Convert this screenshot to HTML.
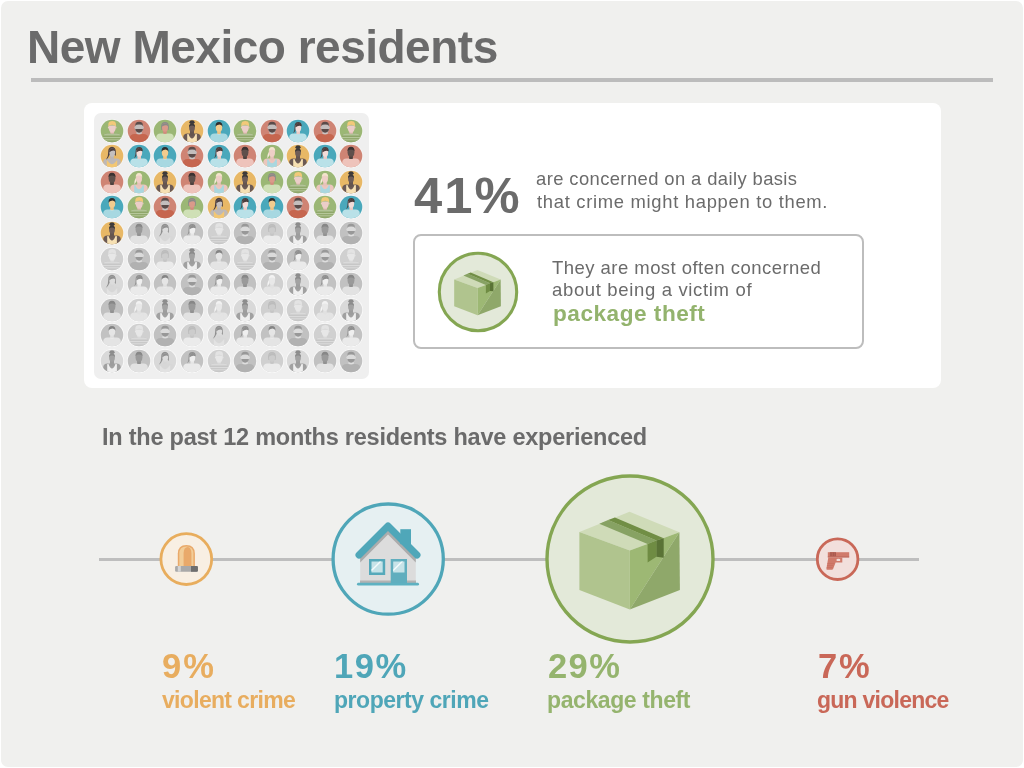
<!DOCTYPE html>
<html><head><meta charset="utf-8">
<style>
html,body{margin:0;padding:0;background:#fff;}
body{width:1024px;height:768px;position:relative;overflow:hidden;font-family:"Liberation Sans",sans-serif;}
.bg{position:absolute;left:1px;top:1px;width:1022px;height:766px;background:#f0f0ee;border-radius:7px;}
.t{position:absolute;white-space:nowrap;line-height:1;will-change:transform;}
.hr{position:absolute;left:31px;top:78.3px;width:962px;height:3.5px;background:#bcbcbc;}
.card{position:absolute;left:84px;top:103px;width:857px;height:285px;background:#fff;border-radius:8px;}
.panel{position:absolute;left:94px;top:113px;width:275px;height:266px;background:#efefef;border-radius:7px;}
.av{position:absolute;width:24px;height:24px;}
.av.g{filter:grayscale(1) contrast(0.42) brightness(1.42);}
.box{position:absolute;left:413px;top:234px;width:447px;height:111px;border:2px solid #bdbdbd;border-radius:8px;}
.line{position:absolute;left:99px;top:557.5px;width:820px;height:3.5px;background:#bebebe;}
.ic{position:absolute;}
</style></head><body>
<div class="bg"></div>
<div class="hr"></div>
<div class="card"></div>
<div class="panel"></div>
<svg width="0" height="0" style="position:absolute">
<defs><clipPath id="cc"><circle cx="0" cy="0" r="11.3"/></clipPath></defs>
<symbol id="avA" viewBox="-12 -12 24 24"><circle r="12" fill="#f7f7f7"/><circle r="11.3" fill="#9bb775"/>
<g clip-path="url(#cc)">
<path d="M-9 12 L-9 5.4 Q-8.6 2.6 -4.6 2.3 L4.6 2.3 Q8.6 2.6 9 5.4 L9 12Z" fill="#8fa76a"/>
<path d="M-8.6 4.4 Q-8 2.8 -4.6 2.5 L4.6 2.5 Q8 2.8 8.6 4.4Z" fill="#b2c497"/>
<rect x="-9.5" y="6.0" width="19" height="1.1" fill="#b5c79a"/>
<rect x="-9.5" y="8.3" width="19" height="1.0" fill="#b5c79a"/>
<path d="M-2.4 2.4 Q0 3.4 2.4 2.4Z" fill="#7f9a5a"/>
</g>
<path d="M-1.8 -1 L2 -1 L2 2.4 Q0.1 3 -1.8 2.4Z" fill="#e4bdb7"/>
<path d="M-3.4 -5.6 Q-3.5 -1.8 -2.4 0.2 Q-0.8 1.6 0.2 1.6 Q1.2 1.6 2.8 0.2 Q3.9 -1.8 3.8 -5.6Z" fill="#ebcdc8"/>
<ellipse cx="-3.5" cy="-3.6" rx="0.6" ry="1" fill="#ebcdc8"/>
<ellipse cx="3.9" cy="-3.6" rx="0.6" ry="1" fill="#ebcdc8"/>
<path d="M-3.6 -4.4 Q-4.1 -8.4 -2.2 -9.4 Q0.2 -10.3 2.6 -9.5 Q4.4 -8.6 3.9 -4.4 Q3.4 -6.2 0.2 -6.3 Q-3 -6.2 -3.6 -4.4Z" fill="#f2c979"/></symbol>
<symbol id="avB" viewBox="-12 -12 24 24"><circle r="12" fill="#f7f7f7"/><circle r="11.3" fill="#cf8474"/>
<g clip-path="url(#cc)">
<path d="M-9 12 L-9 6 Q-8.6 3.2 -4.6 2.9 L4.6 2.9 Q8.6 3.2 9 6 L9 12Z" fill="#c6664f"/>
<path d="M-6.4 12 L-6.5 8.2 L-6 8.2 L-5.7 12Z M6.4 12 L6.5 8.2 L6 8.2 L5.7 12Z" fill="#a85543"/>
</g>
<path d="M-2.5 0 L2.7 0 L2.7 3.1 Q0.1 3.9 -2.5 3.1Z" fill="#c9c4c3"/>
<path d="M-3.9 -4.5 Q-3.9 -8.2 0.1 -8.2 Q4.1 -8.2 4.1 -4.5 L4.1 -2.4 Q4 1.8 0.1 1.8 Q-3.8 1.8 -3.9 -2.4Z" fill="#c3bebd"/>
<ellipse cx="-4" cy="-3.4" rx="0.7" ry="1.1" fill="#c3bebd"/>
<ellipse cx="4.2" cy="-3.4" rx="0.7" ry="1.1" fill="#c3bebd"/>
<path d="M-3.7 -5 Q-4 -9.2 0.1 -9.2 Q4.2 -9.2 3.9 -5 Q3.2 -6.4 0.1 -6.4 Q-3 -6.4 -3.7 -5Z" fill="#5a4b49"/>
<path d="M-3.7 -2.0 L3.9 -2.0 Q3.8 1.1 0.1 1.7 Q-3.6 1.1 -3.7 -2.0Z" fill="#5a4b49"/></symbol>
<symbol id="avC" viewBox="-12 -12 24 24"><circle r="12" fill="#f7f7f7"/><circle r="11.3" fill="#9bb775"/>
<g clip-path="url(#cc)">
<path d="M-8.7 12 L-8.7 5.8 Q-8.5 2.7 -4.6 2.4 L4.6 2.4 Q8.5 2.7 8.7 5.8 L8.7 12Z" fill="#cfe0b6"/>
</g>
<path d="M-3.9 -4 Q-4 -9.1 0 -9.1 Q4 -9.1 3.9 -4 L3.6 -1 L-3.6 -1Z" fill="#898b88"/>
<path d="M-1.8 -1 L1.8 -1 L1.8 2.6 Q0 3.4 -1.8 2.6Z" fill="#d28c7e"/>
<ellipse cx="0" cy="-3.5" rx="3.0" ry="4.3" fill="#da9a8a"/>
<path d="M-3.1 -4.5 Q-2.8 -7.8 0.3 -7.8 Q3 -7.6 3.1 -4.8 Q1.5 -6.6 -3.1 -4.5Z" fill="#898b88"/></symbol>
<symbol id="avD" viewBox="-12 -12 24 24"><circle r="12" fill="#f7f7f7"/><circle r="11.3" fill="#e8b866"/>
<g clip-path="url(#cc)">
<path d="M-8.7 12 L-8.7 5.8 Q-8.5 2.7 -4.6 2.4 L4.6 2.4 Q8.5 2.7 8.7 5.8 L8.7 12Z" fill="#6b5a55"/>
<path d="M-4.8 12 L-4.8 3.2 L-3.6 2.8 Q-2 7.5 0 7.5 Q2 7.5 3.6 2.8 L4.9 3.2 L4.9 12Z" fill="#f6e0b3"/>
</g>
<path d="M-2 -1 L2 -1 L2 4 Q0 6 -2 4Z" fill="#65554f"/>
<ellipse cx="0" cy="-3.3" rx="2.9" ry="4.1" fill="#6e5d58"/>
<path d="M-3 -3.8 Q-3.2 -7.5 0 -7.5 Q3.2 -7.5 3 -3.8 Q2.4 -5.6 0 -5.6 Q-2.4 -5.6 -3 -3.8Z" fill="#3d3a3a"/>
<ellipse cx="0" cy="-8.8" rx="2.6" ry="1.9" fill="#3d3a3a"/></symbol>
<symbol id="avE" viewBox="-12 -12 24 24"><circle r="12" fill="#f7f7f7"/><circle r="11.3" fill="#4aa8bb"/>
<g clip-path="url(#cc)">
<path d="M-8.7 12 L-8.7 5.8 Q-8.5 2.7 -4.6 2.4 L4.6 2.4 Q8.5 2.7 8.7 5.8 L8.7 12Z" fill="#a7d8e1"/>
<path d="M-2.4 2.4 Q0 5 2.4 2.4Z" fill="#c5e6ec"/>
</g>
<path d="M-1.8 -1 L1.8 -1 L1.8 2.8 Q0 3.6 -1.8 2.8Z" fill="#eec283"/>
<ellipse cx="0" cy="-3.5" rx="3.2" ry="4.3" fill="#f3cc8e"/>
<path d="M-3.4 -4.2 Q-3.8 -9 0 -9 Q3.8 -9 3.4 -4.2 Q3 -6.2 0.5 -6.4 Q-2.8 -6.2 -3.4 -4.2Z" fill="#2f2d2d"/></symbol>
<symbol id="avF" viewBox="-12 -12 24 24"><circle r="12" fill="#f7f7f7"/><circle r="11.3" fill="#e8b866"/>
<g clip-path="url(#cc)">
<path d="M-8.7 12 L-8.7 5.8 Q-8.5 2.7 -4.6 2.4 L4.6 2.4 Q8.5 2.7 8.7 5.8 L8.7 12Z" fill="#bdb8b7"/>
<path d="M-5.2 12 L-5.2 4 Q-2 8.2 0 8.2 Q2 8.2 5.2 4 L5.2 12Z" fill="#f3c773"/>
</g>
<path d="M-3.8 -4 Q-4 -9 0 -9.2 Q3.8 -9 3.8 -4 L3.9 0 Q3 -1 2.8 -1 L-2.5 -1 Q-3.8 2.5 -6 3.8 Q-3.5 0 -3.8 -4Z" fill="#4c3f3f"/>
<path d="M-1.8 -1 L1.8 -1 L1.8 3 Q0 3.8 -1.8 3Z" fill="#bbb6b5"/>
<ellipse cx="0.2" cy="-3.4" rx="2.9" ry="4.2" fill="#c4bfbe"/>
<path d="M-2.9 -3.6 Q-2.6 -7.8 0.8 -7.8 Q3.2 -7.6 3.2 -5 Q0.5 -6.4 -2.9 -3.6Z" fill="#4c3f3f"/></symbol>
<symbol id="avG" viewBox="-12 -12 24 24"><circle r="12" fill="#f7f7f7"/><circle r="11.3" fill="#4aa8bb"/>
<g clip-path="url(#cc)">
<path d="M-8.7 12 L-8.7 5.8 Q-8.5 2.7 -4.6 2.4 L4.6 2.4 Q8.5 2.7 8.7 5.8 L8.7 12Z" fill="#b9e1e8"/>
</g>
<path d="M-3.4 -4 Q-3.6 -9 0.3 -9 Q3.8 -9 3.6 -5 L-2.2 -3 Q-2.4 0.8 -4.8 2.6 Q-3.2 -0.5 -3.4 -4Z" fill="#4b3d3c"/>
<path d="M-1.6 -1 L2 -1 L2 2.8 Q0.2 3.6 -1.6 2.8Z" fill="#eccbc5"/>
<ellipse cx="0.3" cy="-3.4" rx="2.9" ry="4.2" fill="#f4dcd8"/>
<path d="M-2.7 -3.4 Q-2.6 -7.9 0.6 -7.9 Q3.4 -7.8 3.4 -4.8 Q0.6 -6.4 -2.7 -3.4Z" fill="#4b3d3c"/></symbol>
<symbol id="avH" viewBox="-12 -12 24 24"><circle r="12" fill="#f7f7f7"/><circle r="11.3" fill="#cf8474"/>
<g clip-path="url(#cc)">
<path d="M-8.7 12 L-8.7 5.8 Q-8.5 2.7 -4.6 2.4 L4.6 2.4 Q8.5 2.7 8.7 5.8 L8.7 12Z" fill="#eec3bb"/>
</g>
<path d="M-1.9 -1 L1.9 -1 L1.9 2.7 Q0 3.5 -1.9 2.7Z" fill="#4e423f"/>
<ellipse cx="0" cy="-3.7" rx="3.4" ry="4.5" fill="#5f4f4b"/>
<path d="M-3.5 -4.4 Q-3.8 -9.2 0 -9.2 Q3.8 -9.2 3.5 -4.4 Q3 -6.5 0 -6.5 Q-3 -6.5 -3.5 -4.4Z" fill="#3a3131"/></symbol>
<symbol id="avI" viewBox="-12 -12 24 24"><circle r="12" fill="#f7f7f7"/><circle r="11.3" fill="#9bb775"/>
<g clip-path="url(#cc)">
<path d="M-8.7 12 L-8.7 5.8 Q-8.5 2.7 -4.6 2.4 L4.6 2.4 Q8.5 2.7 8.7 5.8 L8.7 12Z" fill="#ecc6bd"/>
<path d="M-4.8 12 L-4.8 3.4 L-3.8 3 Q-2 7.3 0 7.3 Q2 7.3 3.8 3 L4.9 3.4 L4.9 12Z" fill="#a9d7df"/>
</g>
<path d="M-2.8 -5 Q-5 -1 -4.8 2.6 Q-2.4 0.4 -2.2 -3Z" fill="#f5ead8"/>
<path d="M-1.8 -1 L1.8 -1 L1.8 3.8 Q0 5 -1.8 3.8Z" fill="#e8c2ba"/>
<ellipse cx="0" cy="-3.4" rx="3.0" ry="4.3" fill="#efcfc6"/>
<path d="M-3.2 -4.2 Q-3.5 -9.1 0 -9.1 Q3.5 -9.1 3.2 -4.2 Q2.6 -6.4 0 -6.5 Q-2.6 -6.4 -3.2 -4.2Z" fill="#f4e4cc"/></symbol>
</svg>
<svg class="av" style="left:100.30px;top:118.80px" viewBox="-12 -12 24 24"><use href="#avA" x="-12" y="-12" width="24" height="24"/></svg><svg class="av" style="left:126.86px;top:118.80px" viewBox="-12 -12 24 24"><use href="#avB" x="-12" y="-12" width="24" height="24"/></svg><svg class="av" style="left:153.42px;top:118.80px" viewBox="-12 -12 24 24"><use href="#avC" x="-12" y="-12" width="24" height="24"/></svg><svg class="av" style="left:179.98px;top:118.80px" viewBox="-12 -12 24 24"><use href="#avD" x="-12" y="-12" width="24" height="24"/></svg><svg class="av" style="left:206.54px;top:118.80px" viewBox="-12 -12 24 24"><use href="#avE" x="-12" y="-12" width="24" height="24"/></svg><svg class="av" style="left:233.10px;top:118.80px" viewBox="-12 -12 24 24"><use href="#avA" x="-12" y="-12" width="24" height="24"/></svg><svg class="av" style="left:259.66px;top:118.80px" viewBox="-12 -12 24 24"><use href="#avB" x="-12" y="-12" width="24" height="24"/></svg><svg class="av" style="left:286.22px;top:118.80px" viewBox="-12 -12 24 24"><use href="#avG" x="-12" y="-12" width="24" height="24"/></svg><svg class="av" style="left:312.78px;top:118.80px" viewBox="-12 -12 24 24"><use href="#avB" x="-12" y="-12" width="24" height="24"/></svg><svg class="av" style="left:339.34px;top:118.80px" viewBox="-12 -12 24 24"><use href="#avA" x="-12" y="-12" width="24" height="24"/></svg><svg class="av" style="left:100.30px;top:144.36px" viewBox="-12 -12 24 24"><use href="#avF" x="-12" y="-12" width="24" height="24"/></svg><svg class="av" style="left:126.86px;top:144.36px" viewBox="-12 -12 24 24"><use href="#avG" x="-12" y="-12" width="24" height="24"/></svg><svg class="av" style="left:153.42px;top:144.36px" viewBox="-12 -12 24 24"><use href="#avE" x="-12" y="-12" width="24" height="24"/></svg><svg class="av" style="left:179.98px;top:144.36px" viewBox="-12 -12 24 24"><use href="#avB" x="-12" y="-12" width="24" height="24"/></svg><svg class="av" style="left:206.54px;top:144.36px" viewBox="-12 -12 24 24"><use href="#avG" x="-12" y="-12" width="24" height="24"/></svg><svg class="av" style="left:233.10px;top:144.36px" viewBox="-12 -12 24 24"><use href="#avH" x="-12" y="-12" width="24" height="24"/></svg><svg class="av" style="left:259.66px;top:144.36px" viewBox="-12 -12 24 24"><use href="#avI" x="-12" y="-12" width="24" height="24"/></svg><svg class="av" style="left:286.22px;top:144.36px" viewBox="-12 -12 24 24"><use href="#avD" x="-12" y="-12" width="24" height="24"/></svg><svg class="av" style="left:312.78px;top:144.36px" viewBox="-12 -12 24 24"><use href="#avG" x="-12" y="-12" width="24" height="24"/></svg><svg class="av" style="left:339.34px;top:144.36px" viewBox="-12 -12 24 24"><use href="#avH" x="-12" y="-12" width="24" height="24"/></svg><svg class="av" style="left:100.30px;top:169.92px" viewBox="-12 -12 24 24"><use href="#avH" x="-12" y="-12" width="24" height="24"/></svg><svg class="av" style="left:126.86px;top:169.92px" viewBox="-12 -12 24 24"><use href="#avI" x="-12" y="-12" width="24" height="24"/></svg><svg class="av" style="left:153.42px;top:169.92px" viewBox="-12 -12 24 24"><use href="#avD" x="-12" y="-12" width="24" height="24"/></svg><svg class="av" style="left:179.98px;top:169.92px" viewBox="-12 -12 24 24"><use href="#avH" x="-12" y="-12" width="24" height="24"/></svg><svg class="av" style="left:206.54px;top:169.92px" viewBox="-12 -12 24 24"><use href="#avI" x="-12" y="-12" width="24" height="24"/></svg><svg class="av" style="left:233.10px;top:169.92px" viewBox="-12 -12 24 24"><use href="#avD" x="-12" y="-12" width="24" height="24"/></svg><svg class="av" style="left:259.66px;top:169.92px" viewBox="-12 -12 24 24"><use href="#avC" x="-12" y="-12" width="24" height="24"/></svg><svg class="av" style="left:286.22px;top:169.92px" viewBox="-12 -12 24 24"><use href="#avA" x="-12" y="-12" width="24" height="24"/></svg><svg class="av" style="left:312.78px;top:169.92px" viewBox="-12 -12 24 24"><use href="#avI" x="-12" y="-12" width="24" height="24"/></svg><svg class="av" style="left:339.34px;top:169.92px" viewBox="-12 -12 24 24"><use href="#avD" x="-12" y="-12" width="24" height="24"/></svg><svg class="av" style="left:100.30px;top:195.48px" viewBox="-12 -12 24 24"><use href="#avE" x="-12" y="-12" width="24" height="24"/></svg><svg class="av" style="left:126.86px;top:195.48px" viewBox="-12 -12 24 24"><use href="#avA" x="-12" y="-12" width="24" height="24"/></svg><svg class="av" style="left:153.42px;top:195.48px" viewBox="-12 -12 24 24"><use href="#avB" x="-12" y="-12" width="24" height="24"/></svg><svg class="av" style="left:179.98px;top:195.48px" viewBox="-12 -12 24 24"><use href="#avC" x="-12" y="-12" width="24" height="24"/></svg><svg class="av" style="left:206.54px;top:195.48px" viewBox="-12 -12 24 24"><use href="#avF" x="-12" y="-12" width="24" height="24"/></svg><svg class="av" style="left:233.10px;top:195.48px" viewBox="-12 -12 24 24"><use href="#avG" x="-12" y="-12" width="24" height="24"/></svg><svg class="av" style="left:259.66px;top:195.48px" viewBox="-12 -12 24 24"><use href="#avE" x="-12" y="-12" width="24" height="24"/></svg><svg class="av" style="left:286.22px;top:195.48px" viewBox="-12 -12 24 24"><use href="#avB" x="-12" y="-12" width="24" height="24"/></svg><svg class="av" style="left:312.78px;top:195.48px" viewBox="-12 -12 24 24"><use href="#avA" x="-12" y="-12" width="24" height="24"/></svg><svg class="av" style="left:339.34px;top:195.48px" viewBox="-12 -12 24 24"><use href="#avG" x="-12" y="-12" width="24" height="24"/></svg><svg class="av" style="left:100.30px;top:221.04px" viewBox="-12 -12 24 24"><use href="#avD" x="-12" y="-12" width="24" height="24"/></svg><svg class="av g" style="left:126.86px;top:221.04px" viewBox="-12 -12 24 24"><use href="#avH" x="-12" y="-12" width="24" height="24"/></svg><svg class="av g" style="left:153.42px;top:221.04px" viewBox="-12 -12 24 24"><use href="#avF" x="-12" y="-12" width="24" height="24"/></svg><svg class="av g" style="left:179.98px;top:221.04px" viewBox="-12 -12 24 24"><use href="#avG" x="-12" y="-12" width="24" height="24"/></svg><svg class="av g" style="left:206.54px;top:221.04px" viewBox="-12 -12 24 24"><use href="#avA" x="-12" y="-12" width="24" height="24"/></svg><svg class="av g" style="left:233.10px;top:221.04px" viewBox="-12 -12 24 24"><use href="#avB" x="-12" y="-12" width="24" height="24"/></svg><svg class="av g" style="left:259.66px;top:221.04px" viewBox="-12 -12 24 24"><use href="#avC" x="-12" y="-12" width="24" height="24"/></svg><svg class="av g" style="left:286.22px;top:221.04px" viewBox="-12 -12 24 24"><use href="#avD" x="-12" y="-12" width="24" height="24"/></svg><svg class="av g" style="left:312.78px;top:221.04px" viewBox="-12 -12 24 24"><use href="#avH" x="-12" y="-12" width="24" height="24"/></svg><svg class="av g" style="left:339.34px;top:221.04px" viewBox="-12 -12 24 24"><use href="#avB" x="-12" y="-12" width="24" height="24"/></svg><svg class="av g" style="left:100.30px;top:246.60px" viewBox="-12 -12 24 24"><use href="#avA" x="-12" y="-12" width="24" height="24"/></svg><svg class="av g" style="left:126.86px;top:246.60px" viewBox="-12 -12 24 24"><use href="#avB" x="-12" y="-12" width="24" height="24"/></svg><svg class="av g" style="left:153.42px;top:246.60px" viewBox="-12 -12 24 24"><use href="#avC" x="-12" y="-12" width="24" height="24"/></svg><svg class="av g" style="left:179.98px;top:246.60px" viewBox="-12 -12 24 24"><use href="#avD" x="-12" y="-12" width="24" height="24"/></svg><svg class="av g" style="left:206.54px;top:246.60px" viewBox="-12 -12 24 24"><use href="#avE" x="-12" y="-12" width="24" height="24"/></svg><svg class="av g" style="left:233.10px;top:246.60px" viewBox="-12 -12 24 24"><use href="#avA" x="-12" y="-12" width="24" height="24"/></svg><svg class="av g" style="left:259.66px;top:246.60px" viewBox="-12 -12 24 24"><use href="#avB" x="-12" y="-12" width="24" height="24"/></svg><svg class="av g" style="left:286.22px;top:246.60px" viewBox="-12 -12 24 24"><use href="#avG" x="-12" y="-12" width="24" height="24"/></svg><svg class="av g" style="left:312.78px;top:246.60px" viewBox="-12 -12 24 24"><use href="#avB" x="-12" y="-12" width="24" height="24"/></svg><svg class="av g" style="left:339.34px;top:246.60px" viewBox="-12 -12 24 24"><use href="#avA" x="-12" y="-12" width="24" height="24"/></svg><svg class="av g" style="left:100.30px;top:272.16px" viewBox="-12 -12 24 24"><use href="#avF" x="-12" y="-12" width="24" height="24"/></svg><svg class="av g" style="left:126.86px;top:272.16px" viewBox="-12 -12 24 24"><use href="#avG" x="-12" y="-12" width="24" height="24"/></svg><svg class="av g" style="left:153.42px;top:272.16px" viewBox="-12 -12 24 24"><use href="#avE" x="-12" y="-12" width="24" height="24"/></svg><svg class="av g" style="left:179.98px;top:272.16px" viewBox="-12 -12 24 24"><use href="#avB" x="-12" y="-12" width="24" height="24"/></svg><svg class="av g" style="left:206.54px;top:272.16px" viewBox="-12 -12 24 24"><use href="#avG" x="-12" y="-12" width="24" height="24"/></svg><svg class="av g" style="left:233.10px;top:272.16px" viewBox="-12 -12 24 24"><use href="#avH" x="-12" y="-12" width="24" height="24"/></svg><svg class="av g" style="left:259.66px;top:272.16px" viewBox="-12 -12 24 24"><use href="#avI" x="-12" y="-12" width="24" height="24"/></svg><svg class="av g" style="left:286.22px;top:272.16px" viewBox="-12 -12 24 24"><use href="#avD" x="-12" y="-12" width="24" height="24"/></svg><svg class="av g" style="left:312.78px;top:272.16px" viewBox="-12 -12 24 24"><use href="#avG" x="-12" y="-12" width="24" height="24"/></svg><svg class="av g" style="left:339.34px;top:272.16px" viewBox="-12 -12 24 24"><use href="#avH" x="-12" y="-12" width="24" height="24"/></svg><svg class="av g" style="left:100.30px;top:297.72px" viewBox="-12 -12 24 24"><use href="#avH" x="-12" y="-12" width="24" height="24"/></svg><svg class="av g" style="left:126.86px;top:297.72px" viewBox="-12 -12 24 24"><use href="#avI" x="-12" y="-12" width="24" height="24"/></svg><svg class="av g" style="left:153.42px;top:297.72px" viewBox="-12 -12 24 24"><use href="#avD" x="-12" y="-12" width="24" height="24"/></svg><svg class="av g" style="left:179.98px;top:297.72px" viewBox="-12 -12 24 24"><use href="#avH" x="-12" y="-12" width="24" height="24"/></svg><svg class="av g" style="left:206.54px;top:297.72px" viewBox="-12 -12 24 24"><use href="#avI" x="-12" y="-12" width="24" height="24"/></svg><svg class="av g" style="left:233.10px;top:297.72px" viewBox="-12 -12 24 24"><use href="#avD" x="-12" y="-12" width="24" height="24"/></svg><svg class="av g" style="left:259.66px;top:297.72px" viewBox="-12 -12 24 24"><use href="#avC" x="-12" y="-12" width="24" height="24"/></svg><svg class="av g" style="left:286.22px;top:297.72px" viewBox="-12 -12 24 24"><use href="#avA" x="-12" y="-12" width="24" height="24"/></svg><svg class="av g" style="left:312.78px;top:297.72px" viewBox="-12 -12 24 24"><use href="#avI" x="-12" y="-12" width="24" height="24"/></svg><svg class="av g" style="left:339.34px;top:297.72px" viewBox="-12 -12 24 24"><use href="#avD" x="-12" y="-12" width="24" height="24"/></svg><svg class="av g" style="left:100.30px;top:323.28px" viewBox="-12 -12 24 24"><use href="#avE" x="-12" y="-12" width="24" height="24"/></svg><svg class="av g" style="left:126.86px;top:323.28px" viewBox="-12 -12 24 24"><use href="#avA" x="-12" y="-12" width="24" height="24"/></svg><svg class="av g" style="left:153.42px;top:323.28px" viewBox="-12 -12 24 24"><use href="#avB" x="-12" y="-12" width="24" height="24"/></svg><svg class="av g" style="left:179.98px;top:323.28px" viewBox="-12 -12 24 24"><use href="#avC" x="-12" y="-12" width="24" height="24"/></svg><svg class="av g" style="left:206.54px;top:323.28px" viewBox="-12 -12 24 24"><use href="#avF" x="-12" y="-12" width="24" height="24"/></svg><svg class="av g" style="left:233.10px;top:323.28px" viewBox="-12 -12 24 24"><use href="#avG" x="-12" y="-12" width="24" height="24"/></svg><svg class="av g" style="left:259.66px;top:323.28px" viewBox="-12 -12 24 24"><use href="#avE" x="-12" y="-12" width="24" height="24"/></svg><svg class="av g" style="left:286.22px;top:323.28px" viewBox="-12 -12 24 24"><use href="#avB" x="-12" y="-12" width="24" height="24"/></svg><svg class="av g" style="left:312.78px;top:323.28px" viewBox="-12 -12 24 24"><use href="#avA" x="-12" y="-12" width="24" height="24"/></svg><svg class="av g" style="left:339.34px;top:323.28px" viewBox="-12 -12 24 24"><use href="#avG" x="-12" y="-12" width="24" height="24"/></svg><svg class="av g" style="left:100.30px;top:348.84px" viewBox="-12 -12 24 24"><use href="#avD" x="-12" y="-12" width="24" height="24"/></svg><svg class="av g" style="left:126.86px;top:348.84px" viewBox="-12 -12 24 24"><use href="#avH" x="-12" y="-12" width="24" height="24"/></svg><svg class="av g" style="left:153.42px;top:348.84px" viewBox="-12 -12 24 24"><use href="#avF" x="-12" y="-12" width="24" height="24"/></svg><svg class="av g" style="left:179.98px;top:348.84px" viewBox="-12 -12 24 24"><use href="#avG" x="-12" y="-12" width="24" height="24"/></svg><svg class="av g" style="left:206.54px;top:348.84px" viewBox="-12 -12 24 24"><use href="#avA" x="-12" y="-12" width="24" height="24"/></svg><svg class="av g" style="left:233.10px;top:348.84px" viewBox="-12 -12 24 24"><use href="#avB" x="-12" y="-12" width="24" height="24"/></svg><svg class="av g" style="left:259.66px;top:348.84px" viewBox="-12 -12 24 24"><use href="#avC" x="-12" y="-12" width="24" height="24"/></svg><svg class="av g" style="left:286.22px;top:348.84px" viewBox="-12 -12 24 24"><use href="#avD" x="-12" y="-12" width="24" height="24"/></svg><svg class="av g" style="left:312.78px;top:348.84px" viewBox="-12 -12 24 24"><use href="#avH" x="-12" y="-12" width="24" height="24"/></svg><svg class="av g" style="left:339.34px;top:348.84px" viewBox="-12 -12 24 24"><use href="#avB" x="-12" y="-12" width="24" height="24"/></svg>
<div class="box"></div>
<svg class="ic" style="left:437px;top:251px" width="82" height="82" viewBox="-41 -41 82 82">
<circle cx="0" cy="0" r="38.7" fill="#e3e9d9" stroke="#84a652" stroke-width="3.1"/>
<g transform="translate(-0.3,-0.1) scale(0.465)"><path d="M-0.5 -47.3 L49.4 -26.7 L-0.2 -8.6 L-50.6 -26.9Z" fill="#cfdbb8"/>
<path d="M-50.6 -26.9 L-0.2 -8.6 L-0.2 50.4 L-50.6 31Z" fill="#b0c48e"/>
<path d="M-0.2 -8.6 L49.4 -26.7 L-0.2 50.4Z" fill="#9db874"/>
<path d="M49.4 -26.7 L49.9 31 L-0.2 50.4Z" fill="#8fa86a"/>
<path d="M-30.7 -35.2 L-21.9 -38.9 L26.4 -18.4 L17.6 -14.9Z" fill="#87a263"/>
<path d="M-21.9 -38.9 L-15.1 -41.5 L33.7 -20.8 L26.4 -18.4Z" fill="#718e45"/>
<path d="M17.6 -14.9 L26.4 -18.4 L26.4 -2.2 L17.6 3.6Z" fill="#6f8c43"/>
<path d="M26.4 -18.4 L33.7 -20.8 L33.7 -1.3 L26.4 -2.2Z" fill="#5a7336"/></g>
</svg>
<div class="line"></div>

<svg class="ic" style="left:150px;top:523px" width="72" height="72" viewBox="-36 -36 72 72">
<circle cx="0.3" cy="0.1" r="25.4" fill="#f8efe3" stroke="#e8ad5d" stroke-width="2.8"/>
<path d="M-8.2 7 L-8.2 -5.4 Q-8.2 -14.1 0.35 -14.1 Q8.9 -14.1 8.9 -5.4 L8.9 7Z" fill="#e9a96a"/>
<path d="M-6.7 7 L-6.7 -5.4 Q-6.7 -12.6 0.35 -12.6 Q7.4 -12.6 7.4 -5.4 L7.4 7Z" fill="#f2cd98"/>
<path d="M-2.4 7 L-2.4 -6 Q-2.2 -11.8 1.8 -12 Q5.2 -11.6 5.4 -6 L5.4 7Z" fill="#e9a96a"/>
<path d="M-10.9 8.2 Q-10.9 7 -9.7 7 L10.7 7 Q11.9 7 11.9 8.2 L11.9 11.5 Q11.9 12.7 10.7 12.7 L-9.7 12.7 Q-10.9 12.7 -10.9 11.5Z" fill="#a9a9a9"/>
<rect x="-8.2" y="7" width="3" height="5.7" fill="#d4d4d4"/>
<path d="M5 7 L10.7 7 Q11.9 7 11.9 8.2 L11.9 11.5 Q11.9 12.7 10.7 12.7 L5 12.7Z" fill="#6e6e6e"/>
</svg>

<svg class="ic" style="left:330px;top:501px" width="116" height="116" viewBox="-58 -58 116 116">
<circle cx="0.2" cy="0.1" r="55.1" fill="#e6f0f2" stroke="#4fa6b8" stroke-width="3.3"/>
<path d="M-27.8 -1 L0 -28.8 L27.8 -1 L27.8 24 L-27.8 24Z" fill="#dcdcdc"/>
<path d="M-27.8 -1 L0 -28.8 L27.8 -1 L27.8 3.4 L0 -24.4 L-27.8 3.4Z" fill="#acacac"/>
<rect x="-28" y="21.5" width="56" height="2.5" fill="#b2b2b2"/>
<rect x="12.3" y="-29.8" width="10.7" height="15" fill="#4fa7b9"/>
<path d="M-29 -4 L0 -33 L29 -4" fill="none" stroke="#4fa7b9" stroke-width="7" stroke-linecap="round" stroke-linejoin="round"/>
<rect x="-19" y="0" width="16.2" height="16" fill="#56a9ba"/>
<rect x="-16.5" y="2.5" width="11.2" height="11" fill="#c6e3e8"/>
<path d="M-16.5 10.5 L-8.5 2.5 L-6.5 2.5 L-16.5 12.5Z" fill="#f4fbfc"/>
<rect x="2.7" y="0" width="16.3" height="24" fill="#60aebe"/>
<rect x="5.2" y="2.5" width="11.3" height="11" fill="#c6e3e8"/>
<path d="M5.2 10.5 L13.2 2.5 L15.2 2.5 L5.2 12.5Z" fill="#f4fbfc"/>
<rect x="-31" y="23.8" width="62" height="2.8" rx="1.4" fill="#5eb1c1"/>
</svg>

<svg class="ic" style="left:543px;top:472px" width="174" height="174" viewBox="-87 -87 174 174">
<circle cx="0" cy="0" r="83" fill="#e3e9d9" stroke="#84a652" stroke-width="3.4"/>
<path d="M-0.5 -47.3 L49.4 -26.7 L-0.2 -8.6 L-50.6 -26.9Z" fill="#cfdbb8"/>
<path d="M-50.6 -26.9 L-0.2 -8.6 L-0.2 50.4 L-50.6 31Z" fill="#b0c48e"/>
<path d="M-0.2 -8.6 L49.4 -26.7 L-0.2 50.4Z" fill="#9db874"/>
<path d="M49.4 -26.7 L49.9 31 L-0.2 50.4Z" fill="#8fa86a"/>
<path d="M-30.7 -35.2 L-21.9 -38.9 L26.4 -18.4 L17.6 -14.9Z" fill="#87a263"/>
<path d="M-21.9 -38.9 L-15.1 -41.5 L33.7 -20.8 L26.4 -18.4Z" fill="#718e45"/>
<path d="M17.6 -14.9 L26.4 -18.4 L26.4 -2.2 L17.6 3.6Z" fill="#6f8c43"/>
<path d="M26.4 -18.4 L33.7 -20.8 L33.7 -1.3 L26.4 -2.2Z" fill="#5a7336"/>
</svg>

<svg class="ic" style="left:812px;top:534px" width="51" height="51" viewBox="-25.5 -25.5 51 51">
<circle cx="0.1" cy="-0.3" r="20.3" fill="#f2dfdc" stroke="#c96858" stroke-width="2.8"/>
<path d="M-9.7 -7.3 L11.7 -7.3 L11.7 -2.1 L-9.7 -2.1Z" fill="#d07a6b"/>
<path d="M-7.6 -7.3 L-1.6 -7.3 L-1.6 -3.2 L-7.6 -3.2Z" fill="#a65a4f"/>
<path d="M-6.8 -7.3 L-6.2 -7.3 L-6.2 -3.2 L-6.8 -3.2Z M-5.2 -7.3 L-4.6 -7.3 L-4.6 -3.2 L-5.2 -3.2Z M-3.6 -7.3 L-3 -7.3 L-3 -3.2 L-3.6 -3.2Z" fill="#c46b5e"/>
<rect x="-9.7" y="-3" width="21.4" height="0.9" fill="#b8645a"/>
<path d="M-9.2 -2.1 L4.8 -2.1 L4.8 3 L-1.9 3 L-4.4 9.6 Q-4.8 10.3 -5.6 10.3 L-10.2 10.3 Q-11.4 10.3 -11.1 9.2 Z" fill="#d07a6b"/>
<path d="M-10.3 4 L-3.4 4 M-10.6 6 L-4.2 6 M-10.9 8 L-4.9 8" stroke="#c46b5e" stroke-width="0.5"/>
<ellipse cx="0.9" cy="0.4" rx="2" ry="1.2" fill="#f2dfdc"/>
</svg>

<div class="t" id="title" style="left:27.40px;top:24.28px;font-size:46.00px;letter-spacing:-0.495px;color:#6b6b6b;font-weight:bold">New Mexico residents</div>
<div class="t" id="pct" style="left:414.04px;top:170.71px;font-size:50.70px;letter-spacing:2.100px;color:#6b6b6b;font-weight:bold">41%</div>
<div class="t" id="sub1" style="left:535.63px;top:169.93px;font-size:18.40px;letter-spacing:0.400px;color:#6b6b6b;font-weight:normal">are concerned on a daily basis</div>
<div class="t" id="sub2" style="left:536.63px;top:193.23px;font-size:18.40px;letter-spacing:0.697px;color:#6b6b6b;font-weight:normal">that crime might happen to them.</div>
<div class="t" id="boxt1" style="left:551.92px;top:259.05px;font-size:18.50px;letter-spacing:0.457px;color:#6b6b6b;font-weight:normal">They are most often concerned</div>
<div class="t" id="boxt2" style="left:551.92px;top:281.35px;font-size:18.50px;letter-spacing:0.655px;color:#6b6b6b;font-weight:normal">about being a victim of</div>
<div class="t" id="boxg" style="left:552.89px;top:302.88px;font-size:22.60px;letter-spacing:0.517px;color:#93b36d;font-weight:bold">package theft</div>
<div class="t" id="sec" style="left:101.72px;top:426.42px;font-size:23.50px;letter-spacing:-0.238px;color:#6b6b6b;font-weight:bold">In the past 12 months residents have experienced</div>
<div class="t" id="p9" style="left:161.74px;top:649.31px;font-size:34.50px;letter-spacing:2.000px;color:#e8ad5f;font-weight:bold">9%</div>
<div class="t" id="p19" style="left:334.34px;top:649.11px;font-size:34.50px;letter-spacing:1.600px;color:#4fa6b8;font-weight:bold">19%</div>
<div class="t" id="p29" style="left:547.94px;top:649.11px;font-size:34.50px;letter-spacing:1.400px;color:#95b46e;font-weight:bold">29%</div>
<div class="t" id="p7" style="left:817.94px;top:649.11px;font-size:34.50px;letter-spacing:1.800px;color:#c96858;font-weight:bold">7%</div>
<div class="t" id="l9" style="left:162.06px;top:689.04px;font-size:23.00px;letter-spacing:-0.683px;color:#e8ad5f;font-weight:bold">violent crime</div>
<div class="t" id="l19" style="left:334.16px;top:688.84px;font-size:23.00px;letter-spacing:-0.462px;color:#4fa6b8;font-weight:bold">property crime</div>
<div class="t" id="l29" style="left:547.16px;top:689.04px;font-size:23.00px;letter-spacing:-0.400px;color:#95b46e;font-weight:bold">package theft</div>
<div class="t" id="l7" style="left:817.26px;top:688.64px;font-size:23.00px;letter-spacing:-0.745px;color:#c96858;font-weight:bold">gun violence</div>
</body></html>
